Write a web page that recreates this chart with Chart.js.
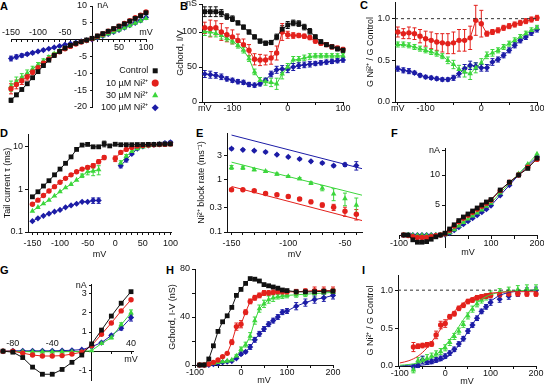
<!DOCTYPE html>
<html>
<head>
<meta charset="utf-8">
<script src="https://cdn.jsdelivr.net/npm/chart.js@4.4.0/dist/chart.umd.min.js"></script>
<style>
  body { margin: 0; background: #fff; width: 544px; height: 384px; overflow: hidden; position: relative;
         font-family: "Liberation Sans", Arial, Helvetica, sans-serif; }
  canvas { position: absolute; }
  .lbl { position: absolute; font-weight: bold; font-size: 11px; line-height: 11px; color: #000; }
</style>
</head>
<body>
<div class="lbl" style="left:0px;top:1px">A</div>
<div class="lbl" style="left:180px;top:1px">B</div>
<div class="lbl" style="left:360px;top:0px">C</div>
<div class="lbl" style="left:0px;top:128px">D</div>
<div class="lbl" style="left:196px;top:128px">E</div>
<div class="lbl" style="left:391px;top:128px">F</div>
<div class="lbl" style="left:0px;top:265px">G</div>
<div class="lbl" style="left:166px;top:265px">H</div>
<div class="lbl" style="left:362px;top:265px">I</div>

<canvas id="cA" width="180" height="125" style="left:0px;top:0px"></canvas>
<canvas id="cLeg" width="140" height="60" style="left:21px;top:63px"></canvas>
<canvas id="cB" width="184" height="129" style="left:168px;top:-4px"></canvas>
<canvas id="cC" width="182" height="129" style="left:362px;top:-4px"></canvas>
<canvas id="cD" width="180" height="134" style="left:0px;top:127px"></canvas>
<canvas id="cE" width="176" height="134" style="left:190px;top:127px"></canvas>
<canvas id="cF" width="164" height="134" style="left:380px;top:127px"></canvas>
<canvas id="cG" width="170" height="124" style="left:0px;top:260px"></canvas>
<canvas id="cH" width="185" height="130" style="left:160px;top:260px"></canvas>
<canvas id="cI" width="182" height="130" style="left:362px;top:260px"></canvas>

<script>
"use strict";

// ---- data ----
var NAMES = { ctrl: 'Control', ni10: '10 µM Ni²⁺', ni30: '30 µM Ni²⁺', ni100: '100 µM Ni²⁺' };

// A: I-V, nA
var mvA = [-150, -140, -130, -120, -110, -100, -90, -80, -70, -60, -50, -40, -30, -20, -10, 0, 10, 20, 30, 40, 50, 60, 70, 80, 90, 100];
var ctrlA = [-18.0, -16.4, -14.8, -13.1, -11.3, -9.5, -7.7, -6.1, -4.7, -3.5, -2.5, -1.7, -1.1, -0.6, -0.1, 0.4, 1.1, 1.8, 2.5, 3.3, 4.0, 4.7, 5.5, 6.3, 7.1, 8.0];
var ni10A = [-14.6, -13.3, -12.2, -11.0, -9.6, -8.3, -7.0, -5.8, -4.6, -3.6, -2.7, -2.0, -1.3, -0.7, -0.2, 0.3, 1.0, 1.7, 2.5, 3.2, 4.0, 4.8, 5.6, 6.5, 7.3, 8.2];
var ni30A = [-13.8, -12.4, -11.2, -10.0, -8.7, -7.5, -6.3, -5.2, -4.2, -3.3, -2.5, -1.8, -1.2, -0.7, -0.3, 0.1, 0.6, 1.1, 1.7, 2.3, 2.9, 3.5, 4.2, 4.9, 5.6, 6.3];
var ni100A = [-5.6, -5.1, -4.7, -4.3, -3.9, -3.5, -3.1, -2.7, -2.3, -1.9, -1.5, -1.2, -0.9, -0.5, -0.2, 0.1, 0.6, 1.1, 1.7, 2.3, 2.9, 3.6, 4.3, 5.0, 5.7, 6.6];
var errCtrlA = [0.6, 0.5, 0.4, 0.4, 0.3, 0.3, 0.2, 0.2, 0.2, 0.1, 0.1, 0.1, 0.1, 0.1, 0.1, 0.1, 0.1, 0.1, 0.1, 0.1, 0.2, 0.2, 0.2, 0.2, 0.3, 0.3];
var errNi10A = [1.5, 1.3, 1.1, 1.0, 0.8, 0.7, 0.6, 0.5, 0.4, 0.3, 0.3, 0.2, 0.2, 0.1, 0.1, 0.1, 0.1, 0.1, 0.2, 0.2, 0.2, 0.3, 0.3, 0.3, 0.4, 0.4];
var errNi30A = [1.5, 1.3, 1.1, 1.0, 0.8, 0.7, 0.6, 0.5, 0.4, 0.3, 0.3, 0.2, 0.2, 0.1, 0.1, 0.1, 0.1, 0.1, 0.1, 0.2, 0.2, 0.2, 0.2, 0.3, 0.3, 0.3];
var errNi100A = [0.7, 0.6, 0.5, 0.4, 0.4, 0.3, 0.3, 0.2, 0.2, 0.2, 0.1, 0.1, 0.1, 0.1, 0.1, 0.1, 0.1, 0.1, 0.1, 0.1, 0.2, 0.2, 0.2, 0.2, 0.3, 0.3];

// B: chord conductance, nS
var ctrlB = [129, 129, 129, 127, 122, 119, 113, 107, 100, 93, 87, 84, 85, 93, 104, 110, 113, 112, 107, 101, 93, 86, 82, 79, 76, 74];
var ni10B = [106, 105, 106, 100, 96, 93, 88, 82, 74, 61, 60, 60, 63, 70, 100, 96, 95, 95, 94, 92, 87, 84, 82, 79, 77, 75];
var ni30B = [101, 100, 98, 95, 91, 87, 81, 74, 62, 43, 31, 29, 28, 26, 40, 50, 60, 61, 63, 65, 66, 66, 66, 66, 66, 66];
var ni100B = [40, 39, 38, 36, 33, 31, 29, 28, 25, 24, 26, 31, 40, 46, 47, 47, 50, 52, 53, 54, 55, 56, 57, 58, 59, 60];
var errCtrlB = [7, 7, 7, 5, 4, 4, 3, 3, 3, 3, 3, 3, 3, 4, 5, 5, 4, 4, 4, 4, 3, 3, 3, 3, 3, 3];
var errNi10B = [8, 12, 10, 12, 10, 10, 9, 8, 8, 8, 8, 7, 9, 10, 12, 5, 4, 3, 3, 3, 3, 3, 3, 3, 3, 3];
var errNi30B = [6, 6, 5, 5, 4, 4, 4, 4, 4, 4, 4, 5, 6, 8, 7, 5, 5, 4, 4, 4, 3, 3, 3, 3, 3, 3];
var errNi100B = [5, 5, 4, 4, 3, 3, 3, 3, 3, 3, 3, 3, 4, 5, 5, 5, 5, 4, 4, 4, 3, 3, 3, 3, 3, 3];

// C: G Ni / G control
var ni10C = [0.84, 0.82, 0.83, 0.82, 0.79, 0.76, 0.74, 0.72, 0.71, 0.70, 0.71, 0.74, 0.74, 0.77, 0.98, 0.94, 0.82, 0.84, 0.86, 0.89, 0.91, 0.93, 0.95, 0.97, 0.99, 1.01];
var ni30C = [0.69, 0.69, 0.68, 0.66, 0.64, 0.62, 0.60, 0.58, 0.55, 0.50, 0.45, 0.39, 0.36, 0.34, 0.41, 0.47, 0.56, 0.59, 0.62, 0.66, 0.70, 0.74, 0.78, 0.82, 0.86, 0.89];
var ni100C = [0.40, 0.38, 0.37, 0.35, 0.32, 0.30, 0.29, 0.28, 0.27, 0.27, 0.29, 0.34, 0.40, 0.44, 0.43, 0.41, 0.41, 0.48, 0.51, 0.56, 0.62, 0.68, 0.74, 0.78, 0.83, 0.87];
var errNi10C = [0.06, 0.06, 0.07, 0.07, 0.08, 0.09, 0.10, 0.10, 0.11, 0.12, 0.13, 0.13, 0.13, 0.14, 0.18, 0.16, 0.03, 0.03, 0.03, 0.03, 0.03, 0.03, 0.03, 0.03, 0.03, 0.03];
var errNi30C = [0.03, 0.03, 0.03, 0.03, 0.03, 0.03, 0.03, 0.03, 0.03, 0.04, 0.05, 0.05, 0.06, 0.07, 0.06, 0.05, 0.04, 0.04, 0.03, 0.03, 0.03, 0.03, 0.03, 0.03, 0.03, 0.03];
var errNi100C = [0.03, 0.03, 0.03, 0.02, 0.02, 0.02, 0.02, 0.02, 0.02, 0.02, 0.03, 0.04, 0.05, 0.05, 0.04, 0.04, 0.04, 0.04, 0.03, 0.03, 0.03, 0.03, 0.03, 0.03, 0.03, 0.03];

// D: tail current tau, ms
var ctrlD = [0.67, 0.88, 1.2, 1.6, 2.2, 3.0, 4.1, 5.8, 8.7, 11, 11.4, 10, 10, 11.8, 10.5, 11.5, 11.2, 11.2, 11.2, 11.3, 11.3, 11.4, 11.4, 11.5, 11.6, 11.7];
var ni10D = [0.45, 0.56, 0.72, 0.92, 1.16, 1.47, 1.82, 2.2, 2.6, 3.0, 3.3, 3.6, 4.5, 5.6, null, 5.3, 7.4, 8.7, 9.7, 10.4, 10.8, 11.0, 11.2, 11.3, 11.4, 11.6];
var ni30D = [0.31, 0.38, 0.46, 0.56, 0.70, 0.88, 1.1, 1.32, 1.66, 2.1, 2.6, 2.7, 2.9, null, null, null, 4.2, 6.0, 7.8, 9.0, 10.0, 10.5, 11.0, 11.2, 11.5, 11.7];
var ni100D = [0.18, 0.21, 0.24, 0.27, 0.30, 0.33, 0.38, 0.42, 0.46, 0.51, 0.51, 0.55, 0.55, null, null, null, 3.6, 5.0, 6.8, 9.0, 10.2, 10.8, 11.2, 11.6, 12.3, 12.8];
var errCtrlD = [0, 0, 0, 0, 0, 0, 0, 0, 0, 0, 0, 0, 0, 1.8, 0, 0, 0, 0, 0, 0, 0, 0, 0, 0, 0, 0];
var errNi10D = [0, 0, 0, 0, 0, 0, 0, 0, 0, 0, 0.3, 0.4, 0.5, 0.6, 0, 0.8, 0.6, 0, 0, 0, 0, 0, 0, 0, 0, 0];
var errNi30D = [0, 0, 0, 0, 0, 0, 0, 0, 0, 0.2, 0.4, 0.6, 0.7, 0, 0, 0, 0.5, 0.6, 0, 0, 0, 0, 0, 0, 0, 0];
var errNi100D = [0, 0, 0, 0, 0, 0, 0, 0, 0, 0, 0, 0.08, 0.08, 0, 0, 0, 0.4, 0.6, 0, 0, 0, 0, 0, 0, 0.6, 0.8];

// E: block rate, 1/ms
var mvE = [-150, -140, -130, -120, -110, -100, -90, -80, -70, -60, -50, -40];
var ni10E = [0.65, 0.65, 0.62, 0.55, 0.52, 0.48, 0.43, 0.38, 0.33, 0.30, 0.25, 0.22];
var ni30E = [1.75, 1.72, 1.58, 1.47, 1.30, 1.17, 1.06, 0.87, 0.70, 0.54, 0.44, 0.33];
var ni100E = [4.0, 3.8, 3.66, 3.45, 3.07, 2.77, 2.53, 2.28, 2.12, 1.88, 1.97, 1.9];
var errNi10E = [0.04, 0.03, 0.03, 0.03, 0.03, 0.03, 0.03, 0.03, 0.03, 0.04, 0.05, 0.05];
var errNi30E = [0.15, 0.12, 0.08, 0.06, 0.06, 0.05, 0.05, 0.05, 0.08, 0.14, 0.12, 0.12];
var errNi100E = [0.2, 0.15, 0.15, 0.15, 0.12, 0.1, 0.1, 0.1, 0.1, 0.1, 0.15, 0.35];
var fitMvE = [-150, -35];
var fit10E = [0.75, 0.166];
var fit30E = [2.2, 0.51];
var fit100E = [7.3, 1.65];

// F, H share voltages
var mvF = [-90, -80, -70, -60, -50, -40, -30, -20, -10, 0, 10, 20, 30, 40, 50, 60, 70, 80, 90, 100, 120, 140, 160, 180, 200];
var ctrlF = [0, 0, -0.8, -1.2, -1.2, -1.1, -0.7, -0.3, 0, 0.3, 1.0, 1.7, 2.4, 3.0, 3.5, 4.0, 4.5, 5.0, 5.5, 5.9, 7.5, 8.8, 10.0, 11.1, 12.8];
var ni10F = [0, -0.1, -0.3, -0.4, -0.4, -0.4, -0.3, -0.1, 0, 0.2, 0.8, 1.5, 2.2, 2.8, 3.3, 3.8, 4.3, 4.8, 5.3, 5.8, 7.4, 8.8, 10.0, 11.3, 12.6];
var ni30F = [0, 0, -0.05, -0.05, -0.05, -0.05, -0.05, 0, 0, 0.05, 0.4, 0.9, 1.5, 2.1, 2.7, 3.2, 3.7, 4.2, 4.8, 5.3, 7.0, 8.6, 10.2, 11.8, 13.5];
var ni100F = [0, 0, 0, 0, 0, 0, 0, 0, 0, 0.05, 0.3, 0.8, 1.3, 1.8, 2.3, 2.8, 3.3, 3.8, 4.3, 4.9, 6.6, 8.3, 10.0, 11.6, 13.0];

// G: I-V, nA
var mvG = [-90, -80, -70, -60, -50, -40, -30, -20, -10, 0, 10, 20, 30, 40];
var ctrlG = [0, -0.05, -0.33, -0.83, -1.2, -1.2, -0.95, -0.58, -0.2, 0.38, 1.1, 1.83, 2.5, 3.1];
var ni10G = [0, 0, -0.1, -0.2, -0.25, -0.25, -0.23, -0.15, -0.05, 0.3, 0.88, 1.47, 2.1, 2.68];
var ni30G = [0, -0.02, -0.02, -0.03, -0.03, -0.03, -0.03, -0.02, -0.02, 0.03, 0.4, 0.7, 1.38, 2.0];
var ni100G = [0, 0.02, 0.02, 0.02, 0.02, 0.02, 0.03, 0.05, 0.08, 0.23, 0.45, 0.82, 1.2, 1.75];
var errNi30G = [0, 0, 0, 0, 0, 0, 0, 0, 0, 0, 0, 0.06, 0.1, 0.15];
var errNi100G = [0, 0, 0, 0, 0, 0, 0, 0, 0, 0, 0, 0.06, 0.1, 0.18];

// H: chord conductance, nS
var ctrlH = [0, 0, 5, 16, 28, 36, 41, 48, 58, 63, 68, 72, 71.5, 70, 67, 66, 65, 64, 62.5, 62, 61, 61, 61, 61.5, 61.5];
var ni10H = [0, 0, 0.8, 2.2, 4.2, 7, 9.7, 19, 32, 34, 44, 53, 56, 58, 60, 60, 60.5, 61, 61, 61, 61, 61.5, 62, 62, 62];
var ni30H = [0, 0, 0.5, 1.4, 2.2, 2.8, 3.3, 4.2, 7.5, 13, 17, 24, 37, 47, 51, 54.5, 56, 57, 57.5, 58, 58.5, 59, 59.5, 60, 60.5];
var ni100H = [0, 0, 0, 0.8, 1.4, 2.2, 2.8, 3.3, 5.6, 9, 11, 15, 21, 26, 30, 34, 37, 40, 44, 45, 49, 52, 54.5, 56, 58];
var errNi10H = [0, 0, 0, 0, 0, 0, 0, 2, 3, 3, 2, 2, 2, 2, 2, 2, 2, 2, 2, 2, 2, 2, 3, 3, 3];
var errNi30H = [0, 0, 0, 0, 0, 0, 0, 0, 1, 2, 2, 3, 3, 3, 3, 3, 3, 2, 2, 2, 2, 2, 3, 3, 3];
var errNi100H = [0, 0, 0, 0, 0, 0, 0, 0, 0, 1, 1, 2, 2, 2, 2, 2, 2, 2, 2, 2, 3, 3, 3, 3, 3];

// I: G Ni / G control
var mvI = [-70, -60, -50, -40, -30, -20, -10, 0, 10, 20, 30, 40, 50, 60, 70, 80, 90, 100, 120, 140, 160, 180, 200];
var ni10I = [0.25, 0.26, 0.27, 0.28, 0.29, 0.41, 0.54, 0.56, 0.65, 0.69, 0.76, 0.80, 0.85, 0.87, 0.90, 0.91, 0.92, 0.93, 0.94, 0.95, 0.95, 0.95, 0.95];
var ni30I = [-0.05, 0.07, 0.08, 0.10, 0.13, 0.16, 0.19, 0.24, 0.31, 0.39, 0.46, 0.55, 0.66, 0.75, 0.82, 0.87, 0.91, 0.95, 0.98, 1.00, 1.01, 1.02, 1.02];
var ni100I = [-0.01, 0.01, 0.08, 0.05, 0.06, 0.08, 0.10, 0.13, 0.17, 0.22, 0.29, 0.36, 0.46, 0.54, 0.63, 0.72, 0.78, 0.84, 0.88, 0.92, 0.96, 0.99, 1.00];
var errNi10I = [0.06, 0.03, 0.03, 0.03, 0.03, 0.05, 0.05, 0.05, 0.03, 0.03, 0.03, 0.03, 0.03, 0.03, 0.03, 0.03, 0.03, 0.03, 0.03, 0.03, 0.03, 0.03, 0.03];
var errNi30I = [0.04, 0.04, 0.04, 0.05, 0.04, 0.04, 0.04, 0.04, 0.04, 0.04, 0.04, 0.04, 0.04, 0.04, 0.04, 0.04, 0.04, 0.04, 0.04, 0.04, 0.05, 0.05, 0.05];
var errNi100I = [0.03, 0.03, 0.05, 0.03, 0.03, 0.03, 0.03, 0.03, 0.03, 0.03, 0.03, 0.03, 0.03, 0.03, 0.03, 0.03, 0.03, 0.04, 0.04, 0.04, 0.04, 0.04, 0.04];
var fitMvI = [-100, -80, -60, -40, -20, 0, 20, 40, 60, 80, 100, 120, 150, 200];
var fit10I = [0.04, 0.07, 0.13, 0.24, 0.40, 0.57, 0.72, 0.83, 0.90, 0.94, 0.96, 0.97, 0.98, 0.98];
var fit30I = [0.01, 0.02, 0.04, 0.08, 0.15, 0.27, 0.43, 0.61, 0.77, 0.88, 0.94, 0.97, 0.99, 1.00];
var fit100I = [0.00, 0.01, 0.01, 0.02, 0.05, 0.10, 0.20, 0.36, 0.55, 0.72, 0.85, 0.93, 0.98, 1.00];

// ---- styling ----
var INK = '#111111';
var FONT = { family: '"Liberation Sans", Arial, Helvetica, sans-serif', size: 9 };
var STYLE = {
  ctrl: { color: '#111111', point: 'rect', r: 3.4 },
  ni10: { color: '#e3211c', point: 'circle', r: 2.7 },
  ni30: { color: '#3cd63c', point: 'triangle', r: 3.2 },
  ni100: { color: '#1c1ca6', point: 'rectRot', r: 3.1 }
};

Chart.defaults.font = FONT;
Chart.defaults.color = INK;

var errorBars = {
  id: 'errorBars',
  beforeDatasetsDraw: function (chart) {
    var ctx = chart.ctx;
    chart.data.datasets.forEach(function (ds, i) {
      if (!ds.errs) return;
      var meta = chart.getDatasetMeta(i);
      var ys = chart.scales[meta.yAxisID];
      ctx.save();
      ctx.strokeStyle = ds.borderColor;
      ctx.lineWidth = 1;
      meta.data.forEach(function (pt, j) {
        var v = ds.data[j].y, e = ds.errs[j];
        if (v == null || !e) return;
        var lo = v - e;
        if (ys.type === 'logarithmic' && lo <= 0) lo = v * 0.6;
        var y1 = ys.getPixelForValue(v + e), y2 = ys.getPixelForValue(lo);
        ctx.beginPath();
        ctx.moveTo(pt.x, y1); ctx.lineTo(pt.x, y2);
        ctx.moveTo(pt.x - 2, y1); ctx.lineTo(pt.x + 2, y1);
        ctx.moveTo(pt.x - 2, y2); ctx.lineTo(pt.x + 2, y2);
        ctx.stroke();
      });
      ctx.restore();
    });
  }
};

function pts(xs, ys) {
  return xs.map(function (x, i) { return { x: x, y: ys[i] }; });
}

function steps(a, b, d) {
  var out = [];
  for (var v = a; v <= b + 1e-9; v += d) out.push(Math.round(v * 1000) / 1000);
  return out;
}

function series(key, xs, ys, errs, showLine) {
  var s = STYLE[key];
  return {
    label: NAMES[key], data: pts(xs, ys), errs: errs,
    borderColor: s.color, backgroundColor: s.color,
    pointBackgroundColor: s.color, pointBorderColor: s.color, pointBorderWidth: 0,
    pointStyle: s.point, pointRadius: s.r, borderWidth: 1,
    showLine: showLine !== false, spanGaps: false, clip: false, tension: 0
  };
}

function fitLine(key, xs, ys) {
  return {
    label: NAMES[key] + ' fit', data: pts(xs, ys), borderColor: STYLE[key].color,
    borderWidth: 1, pointRadius: 0, cubicInterpolationMode: 'monotone', clip: false
  };
}

function dashed(xs, ys) {
  return { label: 'ref', data: pts(xs, ys), borderColor: '#333', borderWidth: 1, borderDash: [3, 3], pointRadius: 0 };
}

function axis(o) {
  return {
    axis: o.axis, type: o.log ? 'logarithmic' : 'linear', min: o.min, max: o.max, bounds: 'data',
    position: o.pos,
    border: { display: o.line !== false, color: INK, width: 1 },
    grid: { display: !!o.tick, drawOnChartArea: false, drawTicks: !!o.tick, tickLength: o.tick || 0, color: INK },
    ticks: {
      autoSkip: false, maxRotation: 0, minRotation: 0, padding: o.pad || 0, color: INK, font: FONT,
      callback: function (v) { var t = o.labels[v]; return t == null ? '' : t; }
    },
    title: { display: !!o.title, text: o.title || '', color: INK, font: FONT, padding: o.tpad || 0 },
    afterBuildTicks: function (s) { s.ticks = o.ticks.map(function (v) { return { value: v }; }); },
    afterFit: function (s) {
      if (o.size) { if (s.isHorizontal()) s.height = o.size; else s.width = o.size; }
      s.paddingLeft = 0; s.paddingRight = 0; s.paddingTop = 0; s.paddingBottom = 0;
    }
  };
}

function panel(id, datasets, scales, padding) {
  return new Chart(document.getElementById(id), {
    type: 'line',
    data: { datasets: datasets },
    options: {
      responsive: false, animation: false, events: [],
      layout: { padding: padding },
      scales: scales,
      plugins: { legend: { display: false }, tooltip: { enabled: false } }
    },
    plugins: [errorBars]
  });
}

var mvLabels = { '-150': 'mV', '-100': '-100', 0: '0', 100: '100' };

// A
panel('cA', [
  series('ctrl', mvA, ctrlA, errCtrlA), series('ni10', mvA, ni10A, errNi10A),
  series('ni30', mvA, ni30A, errNi30A), series('ni100', mvA, ni100A, errNi100A)
], {
  x: axis({ axis: 'x', min: -150, max: 100, pos: { y: 0 }, ticks: steps(-150, 100, 10), labels: { 50: '50', 100: '100' }, tick: 2, pad: 0 }),
  xTop: axis({ axis: 'x', min: -150, max: 100, pos: { y: 0 }, ticks: [-150, -100, -50, 100], labels: { '-150': '-150', '-100': '-100', '-50': '-50', 100: 'mV' }, line: false, pad: -13 }),
  y: axis({ axis: 'y', min: -20, max: 10, pos: { x: 0 }, ticks: [-20, -15, -10, -5, 5, 10], labels: { '-20': '-20  ', '-15': '-15  ', '-10': '-10  ', '-5': '-5  ', 5: '5  ', 10: '10  ' }, tick: 2 }),
  yUnit: axis({ axis: 'y', min: -20, max: 10, pos: { x: 30 }, ticks: [10], labels: { 10: 'nA' }, line: false })
}, { left: 11, top: 6, right: 34, bottom: 18 });

// legend for all panels
new Chart(document.getElementById('cLeg'), {
  type: 'line',
  data: { datasets: [series('ctrl', [], []), series('ni10', [], []), series('ni30', [], []), series('ni100', [], [])] },
  options: {
    responsive: false, animation: false, events: [],
    scales: { x: { display: false }, y: { display: false } },
    plugins: {
      tooltip: { enabled: false },
      legend: { display: true, position: 'right', align: 'start', rtl: true,
        labels: { usePointStyle: true, boxWidth: 5, boxHeight: 5, padding: 3.3, color: INK, font: FONT } }
    }
  }
});

// B
panel('cB', [
  series('ctrl', mvA, ctrlB, errCtrlB), series('ni10', mvA, ni10B, errNi10B),
  series('ni30', mvA, ni30B, errNi30B), series('ni100', mvA, ni100B, errNi100B)
], {
  x: axis({ axis: 'x', min: -155, max: 100, pos: 'bottom', ticks: steps(-150, 100, 50), labels: mvLabels, tick: 3, pad: -2, size: 23 }),
  y: axis({ axis: 'y', min: 0, max: 140, pos: 'left', ticks: [0, 50, 100, 140], labels: { 0: '0', 50: '50', 100: '100', 140: 'nS' }, tick: 3, pad: 2, size: 34,
    title: 'Gchord, I/V', tpad: { top: 7, bottom: 0 } })
}, { left: 0, top: 8, right: 9, bottom: 0 });

// C
panel('cC', [
  dashed([-155, 100], [1, 1]),
  series('ni10', mvA, ni10C, errNi10C), series('ni30', mvA, ni30C, errNi30C), series('ni100', mvA, ni100C, errNi100C)
], {
  x: axis({ axis: 'x', min: -155, max: 100, pos: 'bottom', ticks: steps(-150, 100, 50), labels: mvLabels, tick: 3, pad: -2, size: 23 }),
  y: axis({ axis: 'y', min: 0, max: 1.2, pos: 'left', ticks: [0, 0.5, 1], labels: { 0: '0.0', 0.5: '0.5', 1: '1.0' }, tick: 3, pad: 2, size: 33,
    title: 'G Ni²⁺ / G Control', tpad: { top: 3, bottom: 0 } })
}, { left: 0, top: 6, right: 7, bottom: 0 });

// D
panel('cD', [
  series('ctrl', mvA, ctrlD, errCtrlD), series('ni10', mvA, ni10D, errNi10D),
  series('ni30', mvA, ni30D, errNi30D), series('ni100', mvA, ni100D, errNi100D)
], {
  x: axis({ axis: 'x', min: -158, max: 101, pos: 'bottom', ticks: steps(-150, 100, 10),
    labels: { '-150': '-150', '-100': '-100', '-50': '-50', 0: '0', 50: '50', 100: '100' }, tick: 3, pad: 3, size: 29,
    title: 'mV', tpad: { top: 0, bottom: 1 } }),
  y: axis({ axis: 'y', log: true, min: 0.1, max: 20, pos: 'left', ticks: [0.1, 1, 10], labels: { 0.1: '0.1', 1: '1', 10: '10' }, tick: 3, pad: 2, size: 28,
    title: 'Tail current τ (ms)', tpad: { top: 2, bottom: 0 } })
}, { left: 0, top: 7, right: 9, bottom: 0 });

// E
panel('cE', [
  fitLine('ni10', fitMvE, fit10E), fitLine('ni30', fitMvE, fit30E), fitLine('ni100', fitMvE, fit100E),
  series('ni10', mvE, ni10E, errNi10E, false), series('ni30', mvE, ni30E, errNi30E, false), series('ni100', mvE, ni100E, errNi100E, false)
], {
  x: axis({ axis: 'x', min: -154, max: -35, pos: 'bottom', ticks: steps(-150, -40, 10),
    labels: { '-150': '-150', '-100': '-100', '-50': '-50' }, tick: 3, pad: 3, size: 29,
    title: 'mV', tpad: { top: 0, bottom: 1 } }),
  y: axis({ axis: 'y', log: true, min: 0.1, max: 8, pos: 'left', ticks: [0.1, 0.3, 1, 3], labels: { 0.1: '0.1', 0.3: '0.3', 1: '1', 3: '3' }, tick: 3, pad: 2, size: 37,
    title: 'Ni²⁺ block rate (ms⁻¹)', tpad: { top: 6, bottom: 0 } })
}, { left: 0, top: 6, right: 0.5, bottom: 0 });

// F
panel('cF', [
  series('ctrl', mvF, ctrlF), series('ni10', mvF, ni10F), series('ni30', mvF, ni30F), series('ni100', mvF, ni100F)
], {
  x: axis({ axis: 'x', min: -100, max: 200, pos: { y: 0 }, ticks: [-100, -50, 50, 100, 150, 200],
    labels: { '-100': '-100', 100: '100', 200: '200' }, tick: 3, pad: 0, title: 'mV', tpad: { top: -2, bottom: 0 } }),
  y: axis({ axis: 'y', min: -2, max: 14.5, pos: { x: 0 }, ticks: [5, 10, 14], labels: { 5: '5  ', 10: '10  ', 14: 'nA  ' }, tick: 3 })
}, { left: 19, top: 21, right: 7, bottom: 14 });

// G
panel('cG', [
  series('ctrl', mvG, ctrlG), series('ni10', mvG, ni10G), series('ni30', mvG, ni30G, errNi30G), series('ni100', mvG, ni100G, errNi100G)
], {
  x: axis({ axis: 'x', min: -89, max: 42, pos: { y: 0 }, ticks: [-80, -60, -40, -20, 20, 40], labels: { 40: 'mV' }, tick: 2, pad: 1 }),
  xTop: axis({ axis: 'x', min: -89, max: 42, pos: { y: 0 }, ticks: [-80, -40, 40], labels: { '-80': '-80', '-40': '-40', 40: '40' }, line: false, pad: -13 }),
  y: axis({ axis: 'y', min: -1.5, max: 3.5, pos: { x: 0 }, ticks: [-1, 1, 2, 3, 3.4], labels: { '-1': '-1  ', 1: '1  ', 2: '2  ', 3: '3  ', 3.4: 'nA  ' }, tick: 2 })
}, { left: 2, top: 24, right: 37, bottom: 0 });

// H
panel('cH', [
  series('ctrl', mvF, ctrlH), series('ni10', mvF, ni10H, errNi10H), series('ni30', mvF, ni30H, errNi30H), series('ni100', mvF, ni100H, errNi100H)
], {
  x: axis({ axis: 'x', min: -100, max: 200, pos: 'bottom', ticks: steps(-100, 200, 50), labels: { '-100': '-100', 0: '0', 100: '100', 200: '200' },
    tick: 3, pad: -1, size: 25, title: 'mV', tpad: { top: 0, bottom: 4 } }),
  y: axis({ axis: 'y', min: 0, max: 80, pos: 'left', ticks: [0, 20, 40, 60, 80], labels: { 0: '0', 40: '40', 80: '80' }, tick: 3, pad: 2, size: 35,
    title: 'Gchord, I-V (nS)', tpad: { top: 7, bottom: 0 } })
}, { left: 0, top: 9, right: 12, bottom: 0 });

// I
panel('cI', [
  dashed([-104, 200], [1, 1]),
  fitLine('ni10', fitMvI, fit10I), fitLine('ni30', fitMvI, fit30I), fitLine('ni100', fitMvI, fit100I),
  series('ni10', mvI, ni10I, errNi10I, false), series('ni30', mvI, ni30I, errNi30I, false), series('ni100', mvI, ni100I, errNi100I, false)
], {
  x: axis({ axis: 'x', min: -104, max: 200, pos: 'bottom', ticks: steps(-100, 200, 50), labels: { '-100': '-100', 0: '0', 100: '100', 200: '200' },
    tick: 3, pad: -1, size: 24, title: 'mV', tpad: { top: 0, bottom: 3 } }),
  y: axis({ axis: 'y', min: 0, max: 1.2, pos: 'left', ticks: [0, 0.5, 1], labels: { 0: '0.0', 0.5: '0.5', 1: '1.0' }, tick: 3, pad: 2, size: 36,
    title: 'G Ni²⁺ / G Control', tpad: { top: 3, bottom: 0 } })
}, { left: 0, top: 15, right: 8, bottom: 0 });
</script>
</body>
</html>
